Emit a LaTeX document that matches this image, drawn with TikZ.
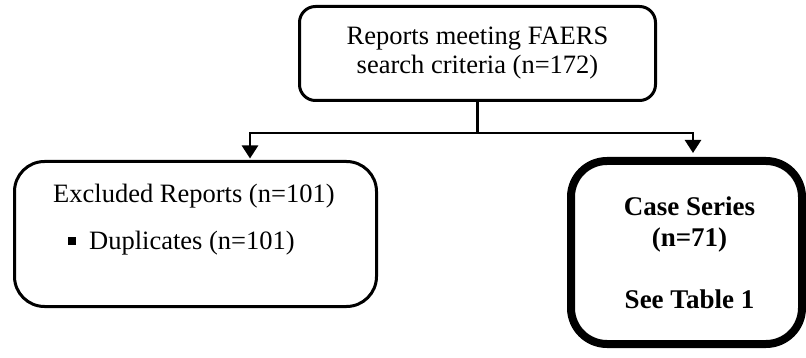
\documentclass[tikz,border=0pt]{standalone}
\usepackage{fontspec}
\setmainfont{Liberation Serif}
\usepackage{tikz}
\usetikzlibrary{arrows.meta,calc}

\begin{document}
\begin{tikzpicture}[x=1pt,y=-1pt,font=\fontsize{26.5}{29}\selectfont,
  box/.style={draw,line width=3pt,rounded corners=16pt,align=center,inner sep=0pt},
  link/.style={line width=2.6pt},
  flowarrow/.style={link,-{Triangle[width=16pt,length=13pt]}}]
  \useasboundingbox (0,0) rectangle (806,358);
  \node[box,minimum width=356pt,minimum height=94pt] (search) at (477.5,53.5) {Reports meeting FAERS\\search criteria (n=172)};
  \node[box,rounded corners=30pt,minimum width=362pt,minimum height=145pt] (excluded) at (195.5,234) {};
  \node[anchor=base west,inner sep=0pt] (exclhead) at (53,203) {Excluded Reports (n=101)};
  \node[anchor=base west,inner sep=0pt] (duplicates) at (68,250) {\rule[5pt]{8pt}{8pt}\hspace{13pt}Duplicates (n=101)};
  \node[box,line width=8pt,rounded corners=36pt,minimum width=231pt,minimum height=183pt,font=\bfseries\fontsize{27}{31}\selectfont] (caseseries) at (686.5,252.5) {\hspace*{6pt}Case Series\\\hspace*{6pt}(n=71)\\[31pt]\hspace*{6pt}See Table 1};
  \draw[link] (search.south) -- ++(0,31) coordinate (split);
  \coordinate (leftdrop) at (250,133);
  \coordinate (rightdrop) at (693,133);
  \draw[flowarrow,shorten >=1.5pt] (split) -| (leftdrop |- excluded.north);
  \draw[flowarrow,shorten >=4pt] (split) -| (rightdrop |- caseseries.north);
\end{tikzpicture}
\end{document}
